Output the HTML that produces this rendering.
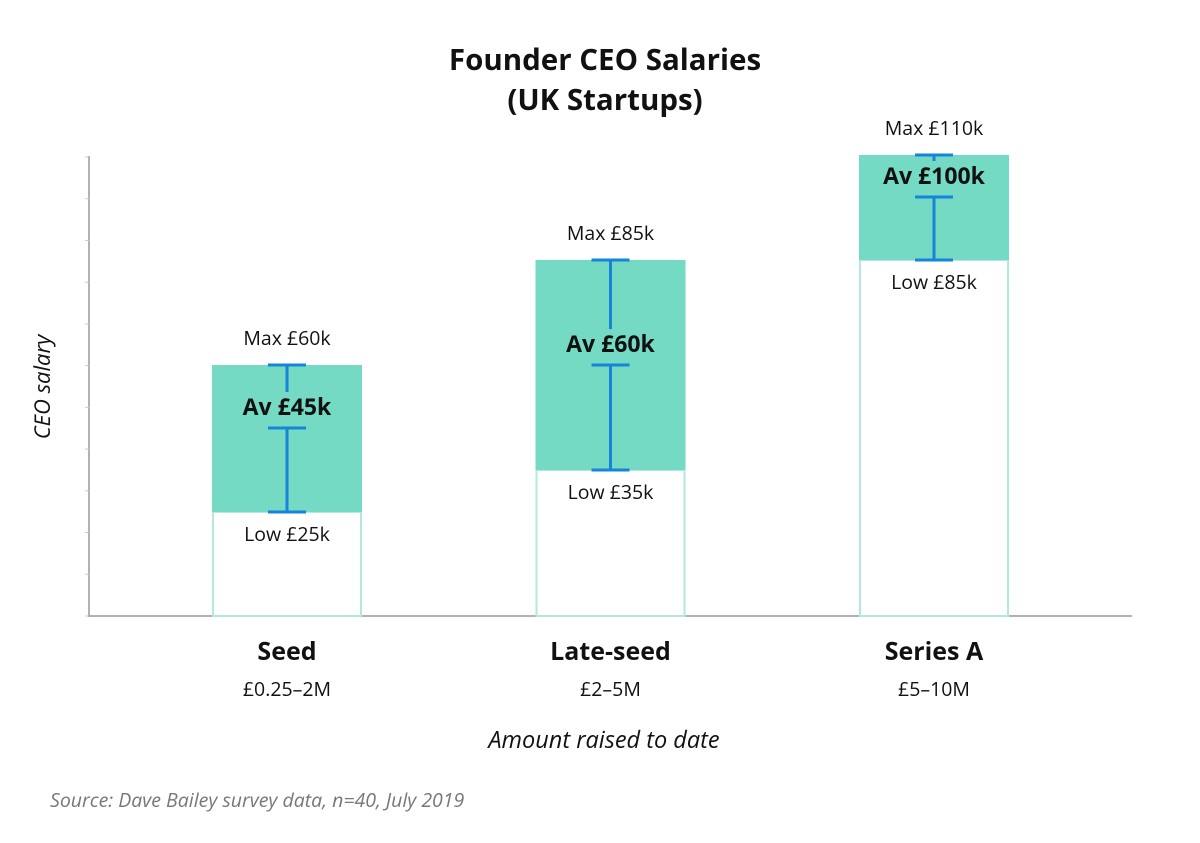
<!DOCTYPE html>
<html><head><meta charset="utf-8"><style>
body{margin:0;background:#fff;}
svg{display:block;font-family:"Open Sans","Liberation Sans","DejaVu Sans",sans-serif;}
</style></head><body>
<svg id="chart" width="1200" height="843" viewBox="0 0 1200 843">
<text x="605" y="70" text-anchor="middle" font-size="29.5" font-weight="bold" fill="#111">Founder CEO Salaries</text>
<text x="605" y="110" text-anchor="middle" font-size="29.5" font-weight="bold" fill="#111">(UK Startups)</text>
<text transform="translate(50,387) rotate(-90)" text-anchor="middle" font-size="22" font-style="italic" fill="#111">CEO salary</text>
<text x="604" y="748" text-anchor="middle" font-size="23.5" font-style="italic" fill="#111">Amount raised to date</text>
<text x="50" y="807" font-size="19.5" font-style="italic" fill="#777">Source: Dave Bailey survey data, n=40, July 2019</text>
<g id="marks"></g>
</svg>
<script>
const categories=["Seed","Late-seed","Series A"];
const ranges=["£0.25–2M","£2–5M","£5–10M"];
const lowValues=[25,35,85];
const avgValues=[45,60,100];
const maxValues=[60,85,110];
const yTicks=[0,10,20,30,40,50,60,70,80,90,100,110];

const NS="http://www.w3.org/2000/svg";
const g=document.getElementById('marks');
const y0=617,pxPerK=4.2;
const y=v=>y0-v*pxPerK;
const x0=287,step=323.5,barW=148;
const xc=i=>x0+i*step;
function el(tag,attrs,text){const e=document.createElementNS(NS,tag);for(const k in attrs)e.setAttribute(k,attrs[k]);if(text!==undefined)e.textContent=text;g.appendChild(e);return e;}

const ax=el('line',{x1:89,y1:156,x2:89,y2:617,stroke:'#999','stroke-width':1.5});


const bx=el('line',{x1:88,y1:616,x2:1132,y2:616,stroke:'#999','stroke-width':1.5});


yTicks.forEach(t=>{
 const tk=el('line',{x1:85,y1:616-t*459/110,x2:89,y2:616-t*459/110,stroke:'#ccc','stroke-width':1});
 
 
});
categories.forEach((c,i)=>{
 const cx=xc(i),l=cx-barW/2;
 const base=el('rect',{x:l,y:y(lowValues[i]),width:barW,height:616-y(lowValues[i]),fill:'#fff',stroke:'#b3e8dc','stroke-width':2});
 
 
 const band=el('rect',{x:l-1,y:y(maxValues[i]),width:barW+2,height:y(lowValues[i])-y(maxValues[i]),fill:'#74dac4'});
 
 
 const ya=y(avgValues[i]),ym=y(maxValues[i]),yl=y(lowValues[i]);
 const s='#1684d8';
 [[cx,ym,cx,Math.max(ym,ya-36)],[cx,ya,cx,yl],[cx-19,ym,cx+19,ym],[cx-19,ya,cx+19,ya],[cx-19,yl,cx+19,yl]].forEach(a=>{
  const w=el('line',{x1:a[0],y1:a[1],x2:a[2],y2:a[3],stroke:s,'stroke-width':3});
  
  
 });
 const at=el('text',{x:cx,y:ya-13,'text-anchor':'middle','font-size':23,'font-weight':'bold',fill:'#111'},'Av £'+avgValues[i]+'k');
 
 
 const mt=el('text',{x:cx,y:ym-20,'text-anchor':'middle','font-size':19.5,fill:'#111'},'Max £'+maxValues[i]+'k');
 
 
 const lt=el('text',{x:cx,y:yl+29,'text-anchor':'middle','font-size':19.5,fill:'#111'},'Low £'+lowValues[i]+'k');
 
 
 const ct=el('text',{x:cx,y:660,'text-anchor':'middle','font-size':25,'font-weight':'bold',fill:'#111'},c);
 
 
 const rt=el('text',{x:cx,y:696,'text-anchor':'middle','font-size':19.5,fill:'#111'},ranges[i]);
 
 
});
</script>
</body></html>
